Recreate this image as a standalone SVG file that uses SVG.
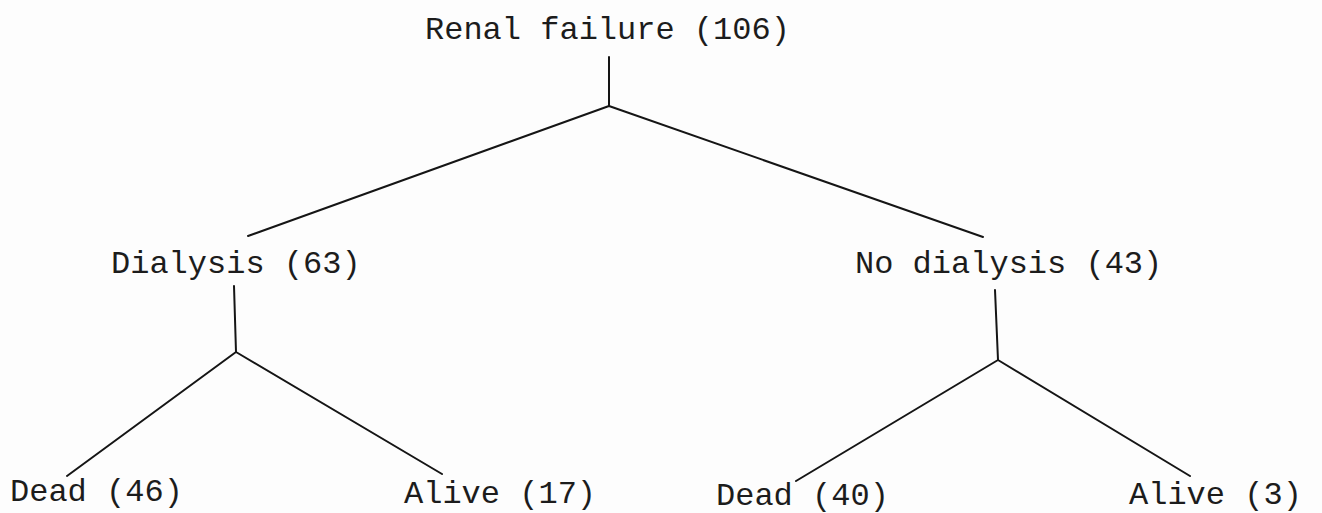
<svg xmlns="http://www.w3.org/2000/svg" width="1322" height="513" viewBox="0 0 1322 513">
  <style>
    .label { font-family: "Liberation Mono", "Courier New", monospace; font-size: 32px; fill: #1c1c1c; }
    .edge { stroke: #151515; stroke-width: 2; fill: none; stroke-linecap: round; stroke-linejoin: round; }
  </style>
  <rect width="1322" height="513" fill="#fdfdfd"/>

  <g id="connectors">
    <!-- root split -->
    <path class="edge" d="M609 57 L609 106 M248 236 L609 106 L983 237"/>
    <!-- dialysis split -->
    <path class="edge" d="M234 286 L236 352 M67 476 L236 352 L442 474"/>
    <!-- no-dialysis split -->
    <path class="edge" d="M995 290 L998 360 M796 481 L998 360 L1190 476"/>
  </g>

  <g id="renal-failure"><text class="label" x="425" y="39">Renal failure (106)</text></g>
  <g id="dialysis"><text class="label" x="111" y="273">Dialysis (63)</text></g>
  <g id="no-dialysis"><text class="label" x="855" y="273">No dialysis (43)</text></g>
  <g id="dialysis-dead"><text class="label" x="10" y="501">Dead (46)</text></g>
  <g id="dialysis-alive"><text class="label" x="404" y="503">Alive (17)</text></g>
  <g id="no-dialysis-dead"><text class="label" x="716" y="505">Dead (40)</text></g>
  <g id="no-dialysis-alive"><text class="label" x="1129" y="504">Alive (3)</text></g>
</svg>
